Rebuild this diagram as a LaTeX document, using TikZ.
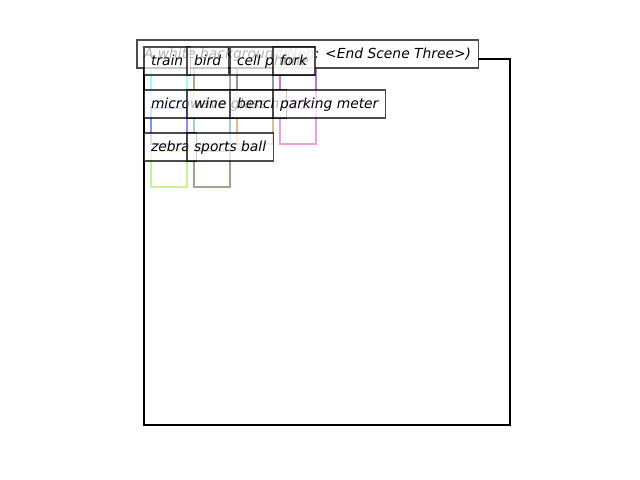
\documentclass[tikz,border=0pt]{standalone}
\usepackage{fontspec}
\setmainfont{DejaVu Sans}
\begin{document}
\begin{tikzpicture}[x=0.01in,y=-0.01in,
  lblfont/.style={font=\fontsize{10}{12}\selectfont\itshape},
  objbox/.style={draw=#1, line width=2pt, minimum width=0.36in, minimum height=0.36in, inner sep=0pt, outer sep=0pt, anchor=north west},
  lbl/.style={draw=black, draw opacity=0.7, fill=white, fill opacity=0.7, text opacity=1, anchor=west,
    inner xsep=0.07in, inner ysep=0pt, minimum height=0.28in, text height=0.83em, text depth=0.17em,
    line width=0.8pt, lblfont, outer sep=0pt},
  titlebox/.style={lbl, fill opacity=1}]
\useasboundingbox (0,0) rectangle (640,480);
\definecolor{ctrain}{HTML}{A0FAFA}
\definecolor{cbird}{HTML}{B8A482}
\definecolor{ccell}{HTML}{8A98A0}
\definecolor{cfork}{HTML}{C474DE}
\definecolor{cmicro}{HTML}{808EFF}
\definecolor{cwine}{HTML}{A0D2DE}
\definecolor{cbench}{HTML}{D8BE90}
\definecolor{cpark}{HTML}{F09ED8}
\definecolor{czebra}{HTML}{C2F49A}
\definecolor{cball}{HTML}{94AA8A}
% object boxes
\node[objbox=ctrain] (b1) at (151,65) {};
\node[objbox=cbird]  (b2) at (194,65) {};
\node[objbox=ccell]  (b3) at (237,65) {};
\node[objbox=cfork]  (b4) at (280,65) {};
\node[objbox=cmicro] (b5) at (151,108) {};
\node[objbox=cwine]  (b6) at (194,108) {};
\node[objbox=cbench] (b7) at (237,108) {};
\node[objbox=cpark]  (b8) at (280,108) {};
\node[objbox=czebra] (b9) at (151,151) {};
\node[objbox=cball]  (b10) at (194,151) {};
% axes frame
\node[draw=black, line width=1.5pt, minimum width=3.66in, minimum height=3.66in, inner sep=0pt, outer sep=0pt, anchor=north west] (frame) at (144,59) {};
% title
\node[titlebox] (title) at (137,54) {A white background/Neg: <End Scene Three>)};
% labels
\node[lbl] (l1) at (144,61) {train};
\node[lbl] (l2) at (187,61) {bird};
\node[lbl] (l3) at (230,61) {cell phone};
\node[lbl] (l4) at (273,61) {fork};
\node[lbl] (l5) at (144,104) {microwave};
\node[lbl] (l6) at (187,104) {wine glass};
\node[lbl] (l7) at (230,104) {bench};
\node[lbl] (l8) at (273,104) {parking meter};
\node[lbl] (l9) at (144,147) {zebra};
\node[lbl] (l10) at (187,147) {sports ball};
\end{tikzpicture}
\end{document}
